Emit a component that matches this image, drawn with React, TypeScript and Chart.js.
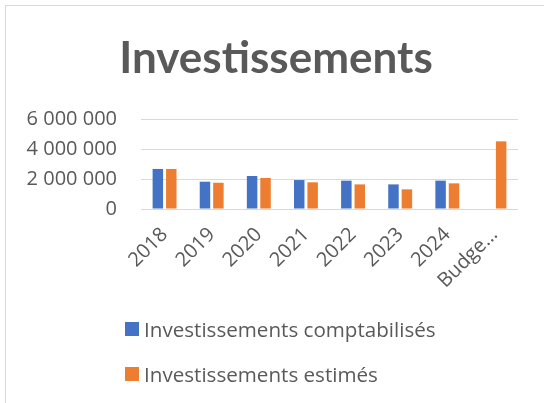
import React, { useEffect, useRef } from "react";
import { Chart, registerables } from "chart.js";

Chart.register(...registerables);

const chartTitle = "Investissements";
const categories = ["2018", "2019", "2020", "2021", "2022", "2023", "2024", "Budge…"];
const comptabilises: (number | null)[] = [2670000, 1820000, 2200000, 1930000, 1890000, 1640000, 1890000, null];
const estimes: (number | null)[] = [2670000, 1750000, 2070000, 1780000, 1640000, 1310000, 1710000, 4510000];
const seriesLabels = ["Investissements comptabilisés", "Investissements estimés"];
const seriesColors = ["#4472C4", "#ED7D31"];
const yMin = 0;
const yMax = 6000000;
const yStep = 2000000;

const TITLE_FONT = "Lato, 'Open Sans', sans-serif";
const FONT = "'Open Sans', 'Noto Sans', sans-serif";
const TEXT = "#595959";

function fmt(n: number): string {
  return String(Math.round(n)).replace(/\B(?=(\d{3})+(?!\d))/g, " ");
}

export default function App() {
  const ref = useRef<HTMLCanvasElement | null>(null);

  useEffect(() => {
    if (!ref.current) return;
    const chart = new Chart(ref.current, {
      type: "bar",
      data: {
        labels: categories,
        datasets: [
          {
            label: seriesLabels[0],
            data: comptabilises,
            backgroundColor: seriesColors[0],
            categoryPercentage: 0.57,
            barPercentage: 0.78,
          },
          {
            label: seriesLabels[1],
            data: estimes,
            backgroundColor: seriesColors[1],
            categoryPercentage: 0.57,
            barPercentage: 0.78,
          },
        ],
      },
      options: {
        responsive: false,
        animation: false,
        layout: { padding: { top: 0, right: 0, bottom: 94, left: 8 } },
        plugins: {
          legend: { display: false },
          tooltip: { enabled: false },
          title: {
            display: true,
            text: chartTitle,
            color: TEXT,
            font: { family: TITLE_FONT, size: 44, weight: "bold", lineHeight: 1.2 },
            padding: { top: 32, bottom: 34.2 },
          },
        },
        scales: {
          x: {
            grid: { display: false },
            border: { display: false },
            ticks: {
              color: TEXT,
              font: { family: FONT, size: 20 },
              minRotation: 45,
              maxRotation: 45,
              autoSkip: false,
              padding: 6,
            },
            afterFit: (s: any) => {
              s.height = 100;
            },
          },
          y: {
            min: yMin,
            max: yMax,
            grid: { color: "#d9d9d9", lineWidth: 1, drawTicks: false },
            border: { display: false },
            ticks: {
              stepSize: yStep,
              color: TEXT,
              font: { family: FONT, size: 20 },
              padding: 24,
              callback: (v: any) => fmt(Number(v)),
            },
            afterFit: (s: any) => {
              s.width = 133;
            },
          },
          yRightSpace: {
            position: "right",
            display: true,
            grid: { display: false },
            border: { display: false },
            ticks: { display: false },
            afterFit: (s: any) => {
              s.width = 26;
            },
          },
        },
      },
    });
    return () => chart.destroy();
  }, []);

  return (
    <div style={{ position: "fixed", left: 0, top: 0, width: 544, height: 403, background: "#fff", overflow: "hidden" }}>
      <div
        style={{
          position: "absolute",
          left: 5,
          top: 5,
          width: 560,
          height: 420,
          border: "1px solid #d9d9d9",
          boxSizing: "border-box",
        }}
      />
      <canvas ref={ref} width={544} height={403} style={{ position: "absolute", left: 0, top: 0, width: 544, height: 403 }} />
      {seriesLabels.map((lab, i) => (
        <div
          key={lab}
          style={{
            position: "absolute",
            left: 125,
            top: 315 + i * 45,
            height: 28,
            display: "flex",
            alignItems: "center",
            fontFamily: FONT,
            fontSize: 20.6,
            color: TEXT,
            whiteSpace: "nowrap",
          }}
        >
          <span style={{ display: "inline-block", width: 14, height: 14, background: seriesColors[i], marginRight: 5 }} />
          <span>{lab}</span>
        </div>
      ))}
    </div>
  );
}
